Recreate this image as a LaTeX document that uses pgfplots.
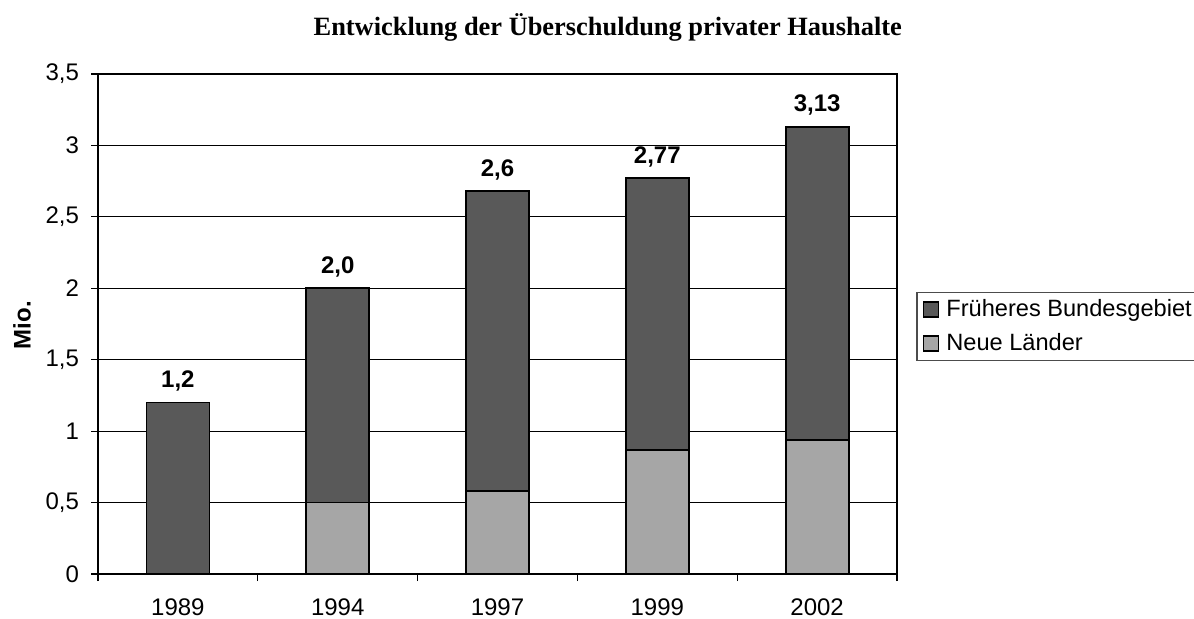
\documentclass[border=0pt]{standalone}
\usepackage{fontspec}
\setmainfont{Liberation Sans}
\newfontfamily\seriffont{Liberation Serif}
\usepackage{pgfplots}
\pgfplotsset{compat=1.18}
\definecolor{dk}{HTML}{595959}
\definecolor{lt}{HTML}{A6A6A6}
\begin{document}
\begin{tikzpicture}
\clip (0,0) rectangle (597pt,309pt);
\useasboundingbox (0,0) rectangle (597pt,309pt);
\begin{axis}[
  at={(49pt,22pt)}, anchor=south west, scale only axis,
  width=399.5pt, height=250pt,
  ybar stacked, bar width=31.5pt,
  xmin=-0.5, xmax=4.5, ymin=0, ymax=3.5,
  xtick={0,...,4}, xticklabels={1989,1994,1997,1999,2002},
  minor xtick={-0.5,0.5,...,4.5},
  ytick={0,0.5,...,3.5},
  tick align=outside, tick pos=left,
  major tick length=3.5pt, minor tick length=3.5pt,
  major x tick style={draw=none},
  minor x tick style={black, line width=0.6pt},
  major y tick style={black, line width=0.6pt},
  ymajorgrids, major grid style={black, line width=0.5pt},
  axis line style={black, line width=0.9pt},
  /pgf/number format/use comma,
  /pgf/number format/assume math mode=true,
  tick label style={font=\fontsize{12}{14}\selectfont},
  xticklabel style={yshift=-5.5pt},
  yticklabel style={xshift=-2.5pt},
  ylabel={\bfseries Mio.},
  ylabel style={at={(axis description cs:-0.095,0.498)}, anchor=center, font=\fontsize{12}{14}\selectfont},
  every axis title shift=0pt,
  title={\seriffont\bfseries Entwicklung der Überschuldung privater Haushalte},
  title style={at={(axis description cs:0.638,1.078)}, anchor=base, font=\fontsize{13.2}{15}\selectfont},
  reverse legend,
  legend cell align=left,
  legend image code/.code={\draw[#1,draw=black,line width=0.8pt] (0pt,-3.75pt) rectangle (7.5pt,3.75pt);},
  legend style={at={(axis description cs:1.0238,0.565)}, anchor=north west,
    draw=black!70, line width=0.8pt, font=\fontsize{11.8}{13}\selectfont,
    inner xsep=3pt, inner ysep=1.5pt, row sep=3pt, column sep=2pt,
    nodes={inner xsep=1.5pt, inner ysep=2pt}},
]
\addplot[fill=lt, draw=black, line width=0.9pt]
  coordinates {(0,0) (1,0.5) (2,0.58) (3,0.87) (4,0.94)};
\addlegendentry{Neue Länder}
\addplot[fill=dk, draw=black, line width=0.9pt]
  coordinates {(0,1.2) (1,1.5) (2,2.10) (3,1.90) (4,2.19)};
\addlegendentry{Früheres Bundesgebiet}
\end{axis}
\begin{axis}[
  at={(49pt,22pt)}, anchor=south west, scale only axis,
  width=399.5pt, height=250pt,
  xmin=-0.5, xmax=4.5, ymin=0, ymax=3.5,
  hide axis, clip=false,
]
\addplot[draw=none, mark=none,
  nodes near coords, point meta=explicit symbolic,
  every node near coord/.append style={font=\fontsize{12}{14}\selectfont\bfseries, anchor=base, inner sep=0pt, yshift=7.5pt, black}]
  coordinates {(0,1.2)[1,2] (1,2.0)[2,0] (2,2.68)[2,6] (3,2.77)[2,77] (4,3.13)[3,13]};
\end{axis}
\end{tikzpicture}
\end{document}
